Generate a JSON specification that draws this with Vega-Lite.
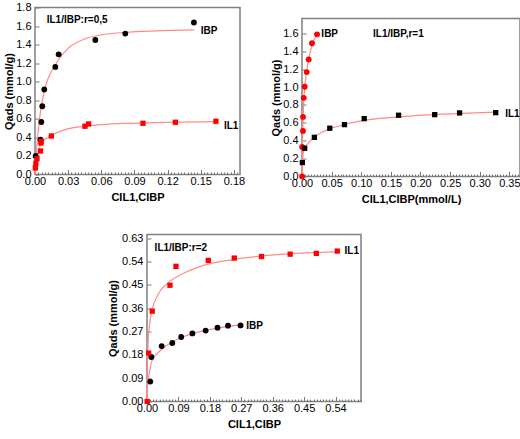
{
  "$schema": "https://vega.github.io/schema/vega-lite/v6.json",
  "padding": {"left": 2, "top": 0.5, "right": 0, "bottom": 0},
  "background": "white",
  "config": {
    "font": "Liberation Sans",
    "view": {"stroke": "#808080", "strokeWidth": 1.5},
    "axis": {"domain": false, "grid": false, "labelFont": "Liberation Sans", "labelFontSize": 11, "labelColor": "#000", "tickColor": "#777", "titleFont": "Liberation Sans", "titleFontSize": 11, "titleFontWeight": "bold", "titleColor": "#000", "labelOverlap": false, "labelFlush": false}
  },
  "datasets": {
    "p1pts": [
      {"s": "IBP", "c": 0.0006, "q": 0.2}, {"s": "IBP", "c": 0.005, "q": 0.375}, {"s": "IBP", "c": 0.0057, "q": 0.566}, {"s": "IBP", "c": 0.0066, "q": 0.736}, {"s": "IBP", "c": 0.0084, "q": 0.916}, {"s": "IBP", "c": 0.0184, "q": 1.16}, {"s": "IBP", "c": 0.0214, "q": 1.295}, {"s": "IBP", "c": 0.0546, "q": 1.45}, {"s": "IBP", "c": 0.0817, "q": 1.519}, {"s": "IBP", "c": 0.1438, "q": 1.638},
      {"s": "IL1", "c": 0.0003, "q": 0.07}, {"s": "IL1", "c": 0.0008, "q": 0.12}, {"s": "IL1", "c": 0.0018, "q": 0.17}, {"s": "IL1", "c": 0.005, "q": 0.253}, {"s": "IL1", "c": 0.0054, "q": 0.339}, {"s": "IL1", "c": 0.0055, "q": 0.357}, {"s": "IL1", "c": 0.0148, "q": 0.415}, {"s": "IL1", "c": 0.0452, "q": 0.52}, {"s": "IL1", "c": 0.0485, "q": 0.545}, {"s": "IL1", "c": 0.0977, "q": 0.552}, {"s": "IL1", "c": 0.127, "q": 0.563}, {"s": "IL1", "c": 0.1637, "q": 0.574}
    ],
    "p1fit": [
      {"s": "IBP", "c": 0, "q": 0}, {"s": "IBP", "c": 0.001, "q": 0.2}, {"s": "IBP", "c": 0.003, "q": 0.48}, {"s": "IBP", "c": 0.005, "q": 0.68}, {"s": "IBP", "c": 0.0084, "q": 0.9}, {"s": "IBP", "c": 0.012, "q": 1.04}, {"s": "IBP", "c": 0.0184, "q": 1.18}, {"s": "IBP", "c": 0.0214, "q": 1.24}, {"s": "IBP", "c": 0.03, "q": 1.36}, {"s": "IBP", "c": 0.045, "q": 1.46}, {"s": "IBP", "c": 0.06, "q": 1.505}, {"s": "IBP", "c": 0.0817, "q": 1.532}, {"s": "IBP", "c": 0.11, "q": 1.548}, {"s": "IBP", "c": 0.144, "q": 1.558},
      {"s": "IL1", "c": 0, "q": 0}, {"s": "IL1", "c": 0.001, "q": 0.12}, {"s": "IL1", "c": 0.002, "q": 0.2}, {"s": "IL1", "c": 0.004, "q": 0.29}, {"s": "IL1", "c": 0.006, "q": 0.34}, {"s": "IL1", "c": 0.01, "q": 0.385}, {"s": "IL1", "c": 0.0148, "q": 0.42}, {"s": "IL1", "c": 0.025, "q": 0.475}, {"s": "IL1", "c": 0.035, "q": 0.505}, {"s": "IL1", "c": 0.045, "q": 0.52}, {"s": "IL1", "c": 0.06, "q": 0.537}, {"s": "IL1", "c": 0.08, "q": 0.55}, {"s": "IL1", "c": 0.1, "q": 0.556}, {"s": "IL1", "c": 0.13, "q": 0.564}, {"s": "IL1", "c": 0.164, "q": 0.57}
    ],
    "p1lab": [
      {"t": "IL1/IBP:r=0,5", "c": 0.0106, "q": 1.667}, {"t": "IBP", "c": 0.15, "q": 1.548}, {"t": "IL1", "c": 0.171, "q": 0.523}
    ],
    "p2pts": [
      {"s": "IBP", "c": 0.0002, "q": 0.0}, {"s": "IBP", "c": 0.0003, "q": 0.33}, {"s": "IBP", "c": 0.0017, "q": 0.51}, {"s": "IBP", "c": 0.0017, "q": 0.666}, {"s": "IBP", "c": 0.0029, "q": 0.88}, {"s": "IBP", "c": 0.0046, "q": 1.004}, {"s": "IBP", "c": 0.008, "q": 1.168}, {"s": "IBP", "c": 0.0113, "q": 1.309}, {"s": "IBP", "c": 0.0169, "q": 1.49}, {"s": "IBP", "c": 0.0254, "q": 1.59},
      {"s": "IL1", "c": 0.0006, "q": 0.156}, {"s": "IL1", "c": 0.0045, "q": 0.316}, {"s": "IL1", "c": 0.0209, "q": 0.438}, {"s": "IL1", "c": 0.0469, "q": 0.54}, {"s": "IL1", "c": 0.0717, "q": 0.58}, {"s": "IL1", "c": 0.105, "q": 0.647}, {"s": "IL1", "c": 0.163, "q": 0.685}, {"s": "IL1", "c": 0.224, "q": 0.692}, {"s": "IL1", "c": 0.266, "q": 0.711}, {"s": "IL1", "c": 0.327, "q": 0.714}
    ],
    "p2fit": [
      {"s": "IBP", "c": 0, "q": 0}, {"s": "IBP", "c": 0.0005, "q": 0.3}, {"s": "IBP", "c": 0.001, "q": 0.45}, {"s": "IBP", "c": 0.002, "q": 0.68}, {"s": "IBP", "c": 0.003, "q": 0.85}, {"s": "IBP", "c": 0.005, "q": 1.02}, {"s": "IBP", "c": 0.008, "q": 1.18}, {"s": "IBP", "c": 0.0113, "q": 1.31}, {"s": "IBP", "c": 0.0169, "q": 1.47}, {"s": "IBP", "c": 0.0254, "q": 1.59},
      {"s": "IL1", "c": 0, "q": 0}, {"s": "IL1", "c": 0.0005, "q": 0.15}, {"s": "IL1", "c": 0.002, "q": 0.26}, {"s": "IL1", "c": 0.005, "q": 0.32}, {"s": "IL1", "c": 0.0113, "q": 0.38}, {"s": "IL1", "c": 0.0226, "q": 0.45}, {"s": "IL1", "c": 0.045, "q": 0.528}, {"s": "IL1", "c": 0.073, "q": 0.584}, {"s": "IL1", "c": 0.1016, "q": 0.625}, {"s": "IL1", "c": 0.158, "q": 0.665}, {"s": "IL1", "c": 0.214, "q": 0.69}, {"s": "IL1", "c": 0.27, "q": 0.707}, {"s": "IL1", "c": 0.327, "q": 0.72}
    ],
    "p2lab": [
      {"t": "IBP", "c": 0.0327, "q": 1.596}, {"t": "IL1/IBP,r=1", "c": 0.12, "q": 1.596}, {"t": "IL1", "c": 0.343, "q": 0.703}
    ],
    "p3pts": [
      {"s": "IL1", "c": 0.0005, "q": 0.0}, {"s": "IL1", "c": 0.0046, "q": 0.187}, {"s": "IL1", "c": 0.015, "q": 0.349}, {"s": "IL1", "c": 0.0658, "q": 0.449}, {"s": "IL1", "c": 0.083, "q": 0.522}, {"s": "IL1", "c": 0.1756, "q": 0.545}, {"s": "IL1", "c": 0.25, "q": 0.554}, {"s": "IL1", "c": 0.328, "q": 0.56}, {"s": "IL1", "c": 0.41, "q": 0.569}, {"s": "IL1", "c": 0.485, "q": 0.572}, {"s": "IL1", "c": 0.545, "q": 0.581},
      {"s": "IBP", "c": 0.0094, "q": 0.077}, {"s": "IBP", "c": 0.0123, "q": 0.172}, {"s": "IBP", "c": 0.042, "q": 0.214}, {"s": "IBP", "c": 0.0725, "q": 0.226}, {"s": "IBP", "c": 0.098, "q": 0.249}, {"s": "IBP", "c": 0.13, "q": 0.263}, {"s": "IBP", "c": 0.168, "q": 0.274}, {"s": "IBP", "c": 0.202, "q": 0.285}, {"s": "IBP", "c": 0.232, "q": 0.293}, {"s": "IBP", "c": 0.268, "q": 0.294}
    ],
    "p3fit": [
      {"s": "IL1", "c": 0, "q": 0}, {"s": "IL1", "c": 0.001, "q": 0.12}, {"s": "IL1", "c": 0.003, "q": 0.22}, {"s": "IL1", "c": 0.0076, "q": 0.3}, {"s": "IL1", "c": 0.0134, "q": 0.346}, {"s": "IL1", "c": 0.0315, "q": 0.413}, {"s": "IL1", "c": 0.06, "q": 0.458}, {"s": "IL1", "c": 0.108, "q": 0.497}, {"s": "IL1", "c": 0.155, "q": 0.523}, {"s": "IL1", "c": 0.251, "q": 0.549}, {"s": "IL1", "c": 0.346, "q": 0.564}, {"s": "IL1", "c": 0.442, "q": 0.573}, {"s": "IL1", "c": 0.545, "q": 0.578},
      {"s": "IBP", "c": 0, "q": 0}, {"s": "IBP", "c": 0.001, "q": 0.05}, {"s": "IBP", "c": 0.0076, "q": 0.116}, {"s": "IBP", "c": 0.0134, "q": 0.155}, {"s": "IBP", "c": 0.041, "q": 0.2}, {"s": "IBP", "c": 0.0725, "q": 0.23}, {"s": "IBP", "c": 0.108, "q": 0.252}, {"s": "IBP", "c": 0.155, "q": 0.271}, {"s": "IBP", "c": 0.203, "q": 0.284}, {"s": "IBP", "c": 0.27, "q": 0.297}
    ],
    "p3lab": [
      {"t": "IL1/IBP:r=2", "c": 0.0218, "q": 0.591}, {"t": "IL1", "c": 0.566, "q": 0.581}, {"t": "IBP", "c": 0.284, "q": 0.29}
    ],
    "empty": []
  },
  "vconcat": [
    {
      "concat": [
        {
          "width": 205, "height": 167,
          "encoding": {
            "x": {"field": "c", "type": "quantitative", "scale": {"domain": [0, 0.1855], "nice": false, "zero": false},
              "axis": {"title": "CIL1,CIBP", "titlePadding": 3,
                "values": [0, 0.003, 0.006, 0.009, 0.012, 0.015, 0.018, 0.021, 0.024, 0.027, 0.03, 0.033, 0.036, 0.039, 0.042, 0.045, 0.048, 0.051, 0.054, 0.057, 0.06, 0.063, 0.066, 0.069, 0.072, 0.075, 0.078, 0.081, 0.084, 0.087, 0.09, 0.093, 0.096, 0.099, 0.102, 0.105, 0.108, 0.111, 0.114, 0.117, 0.12, 0.123, 0.126, 0.129, 0.132, 0.135, 0.138, 0.141, 0.144, 0.147, 0.15, 0.153, 0.156, 0.159, 0.162, 0.165, 0.168, 0.171, 0.174, 0.177, 0.18, 0.183],
                "labelExpr": "abs(datum.value/0.03 - round(datum.value/0.03)) < 0.01 ? format(datum.value, '.2f') : ''",
                "tickSize": {"condition": {"test": "abs(datum.value/0.03 - round(datum.value/0.03)) < 0.01", "value": -5}, "value": -2.5},
                "labelPadding": 5.5}},
            "y": {"field": "q", "type": "quantitative", "scale": {"domain": [0, 1.8], "nice": false},
              "axis": {"title": "Qads (mmol/g)", "values": [0, 0.2, 0.4, 0.6, 0.8, 1.0, 1.2, 1.4, 1.6, 1.8], "format": ".1f", "tickSize": -4, "labelPadding": 8, "titlePadding": 1}}
          },
          "layer": [
            {"data": {"name": "p1fit"}, "mark": {"type": "line", "color": "#ff8a8a", "strokeWidth": 1.2, "interpolate": "monotone"}, "encoding": {"detail": {"field": "s"}}},
            {"data": {"name": "p1pts"}, "transform": [{"filter": "datum.s === 'IBP'"}], "mark": {"type": "circle", "color": "#000", "size": 34, "opacity": 1}},
            {"data": {"name": "p1pts"}, "transform": [{"filter": "datum.s === 'IL1'"}], "mark": {"type": "square", "color": "#ff0000", "size": 28, "opacity": 1}},
            {"data": {"name": "p1lab"}, "mark": {"type": "text", "align": "left", "baseline": "middle", "fontWeight": "bold", "fontSize": 10, "font": "Liberation Sans", "color": "#000"}, "encoding": {"text": {"field": "t"}}}
          ]
        },
        {
          "vconcat": [
            {"width": 1, "height": 10, "data": {"name": "empty"}, "mark": {"type": "point", "opacity": 0}, "encoding": {}, "view": {"stroke": null}},
            {
              "width": 218, "height": 158,
              "encoding": {
                "x": {"field": "c", "type": "quantitative", "scale": {"domain": [0, 0.368], "nice": false, "zero": false},
                  "axis": {"title": "CIL1,CIBP(mmol/L)", "titlePadding": 3,
                    "values": [0, 0.005, 0.01, 0.015, 0.02, 0.025, 0.03, 0.035, 0.04, 0.045, 0.05, 0.055, 0.06, 0.065, 0.07, 0.075, 0.08, 0.085, 0.09, 0.095, 0.1, 0.105, 0.11, 0.115, 0.12, 0.125, 0.13, 0.135, 0.14, 0.145, 0.15, 0.155, 0.16, 0.165, 0.17, 0.175, 0.18, 0.185, 0.19, 0.195, 0.2, 0.205, 0.21, 0.215, 0.22, 0.225, 0.23, 0.235, 0.24, 0.245, 0.25, 0.255, 0.26, 0.265, 0.27, 0.275, 0.28, 0.285, 0.29, 0.295, 0.3, 0.305, 0.31, 0.315, 0.32, 0.325, 0.33, 0.335, 0.34, 0.345, 0.35, 0.355, 0.36, 0.365],
                    "labelExpr": "abs(datum.value/0.05 - round(datum.value/0.05)) < 0.01 ? format(datum.value, '.2f') : ''",
                    "tickSize": {"condition": {"test": "abs(datum.value/0.05 - round(datum.value/0.05)) < 0.01", "value": -5}, "value": -2.5},
                    "labelPadding": 5.5}},
                "y": {"field": "q", "type": "quantitative", "scale": {"domain": [0, 1.767], "nice": false},
                  "axis": {"title": "Qads (mmol/g)", "values": [0, 0.2, 0.4, 0.6, 0.8, 1.0, 1.2, 1.4, 1.6], "format": ".1f", "tickSize": -4, "labelPadding": 8, "titlePadding": 1}}
              },
              "layer": [
                {"data": {"name": "p2fit"}, "mark": {"type": "line", "color": "#ff8a8a", "strokeWidth": 1.2, "interpolate": "monotone"}, "encoding": {"detail": {"field": "s"}}},
                {"data": {"name": "p2pts"}, "transform": [{"filter": "datum.s === 'IBP'"}], "mark": {"type": "circle", "color": "#ff0000", "size": 34, "opacity": 1}},
                {"data": {"name": "p2pts"}, "transform": [{"filter": "datum.s === 'IL1'"}], "mark": {"type": "square", "color": "#000", "size": 28, "opacity": 1}},
                {"data": {"name": "p2lab"}, "mark": {"type": "text", "align": "left", "baseline": "middle", "fontWeight": "bold", "fontSize": 10, "font": "Liberation Sans", "color": "#000"}, "encoding": {"text": {"field": "t"}}}
              ]
            }
          ],
          "spacing": 0
        }
      ],
      "columns": 2,
      "align": "none",
      "spacing": 23
    },
    {
      "concat": [
        {"width": 71, "height": 20, "data": {"name": "empty"}, "mark": {"type": "point", "opacity": 0}, "encoding": {}, "view": {"stroke": null}},
        {
          "width": 214, "height": 167,
          "encoding": {
            "x": {"field": "c", "type": "quantitative", "scale": {"domain": [0, 0.613], "nice": false, "zero": false},
              "axis": {"title": "CIL1,CIBP", "titlePadding": 3,
                "values": [0, 0.009, 0.018, 0.027, 0.036, 0.045, 0.054, 0.063, 0.072, 0.081, 0.09, 0.099, 0.108, 0.117, 0.126, 0.135, 0.144, 0.153, 0.162, 0.171, 0.18, 0.189, 0.198, 0.207, 0.216, 0.225, 0.234, 0.243, 0.252, 0.261, 0.27, 0.279, 0.288, 0.297, 0.306, 0.315, 0.324, 0.333, 0.342, 0.351, 0.36, 0.369, 0.378, 0.387, 0.396, 0.405, 0.414, 0.423, 0.432, 0.441, 0.45, 0.459, 0.468, 0.477, 0.486, 0.495, 0.504, 0.513, 0.522, 0.531, 0.54, 0.549, 0.558, 0.567, 0.576, 0.585, 0.594, 0.603, 0.612],
                "labelExpr": "abs(datum.value/0.09 - round(datum.value/0.09)) < 0.01 ? format(datum.value, '.2f') : ''",
                "tickSize": {"condition": {"test": "abs(datum.value/0.09 - round(datum.value/0.09)) < 0.01", "value": -5}, "value": -2.5},
                "labelPadding": 5.5}},
            "y": {"field": "q", "type": "quantitative", "scale": {"domain": [0, 0.645], "nice": false},
              "axis": {"title": "Qads (mmol/g)", "values": [0, 0.09, 0.18, 0.27, 0.36, 0.45, 0.54, 0.63], "format": ".2f", "tickSize": -4, "labelPadding": 8, "titlePadding": 3}}
          },
          "layer": [
            {"data": {"name": "p3fit"}, "mark": {"type": "line", "color": "#ff8a8a", "strokeWidth": 1.2, "interpolate": "monotone"}, "encoding": {"detail": {"field": "s"}}},
            {"data": {"name": "p3pts"}, "transform": [{"filter": "datum.s === 'IBP'"}], "mark": {"type": "circle", "color": "#000", "size": 34, "opacity": 1}},
            {"data": {"name": "p3pts"}, "transform": [{"filter": "datum.s === 'IL1'"}], "mark": {"type": "square", "color": "#ff0000", "size": 28, "opacity": 1}},
            {"data": {"name": "p3lab"}, "mark": {"type": "text", "align": "left", "baseline": "middle", "fontWeight": "bold", "fontSize": 10, "font": "Liberation Sans", "color": "#000"}, "encoding": {"text": {"field": "t"}}}
          ]
        }
      ],
      "columns": 2,
      "align": "none",
      "spacing": 0
    }
  ],
  "spacing": 26
}
